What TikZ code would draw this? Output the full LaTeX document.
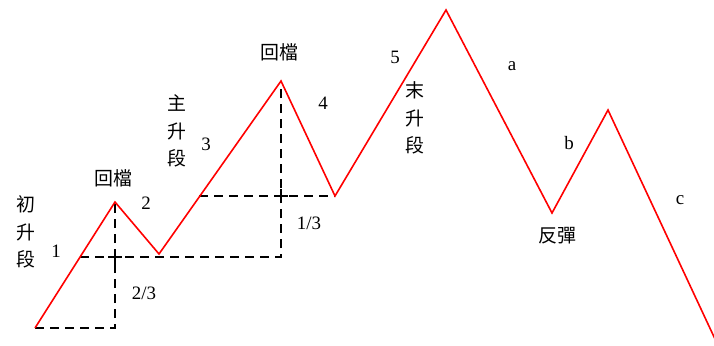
\documentclass[tikz,border=0pt]{standalone}
\usepackage{fontspec}
\setmainfont{Liberation Serif}
\newfontfamily\cjk{Noto Sans CJK TC}
\usetikzlibrary{positioning}

\begin{document}
\begin{tikzpicture}[x=1bp, y=-1bp,
  wave/.style={draw=red, line width=1.6bp, line join=miter},
  guide/.style={draw=black, line width=1.3bp, dash pattern=on 9bp off 6bp},
  crossmark/.style={draw=black, line width=1.3bp},
  lbl/.style={inner sep=0pt, font=\fontsize{19}{21}\selectfont},
  cjklbl/.style={inner sep=0pt, align=center, font=\cjk\fontsize{19}{27.5}\selectfont}
]
\useasboundingbox (0,0) rectangle (714,345);
% turning points of the wave
\coordinate (p0) at (35,328);
\coordinate (p1) at (115,202);
\coordinate (p2) at (159,254);
\coordinate (p3) at (281,81);
\coordinate (p4) at (335,196);
\coordinate (p5) at (446,10);
\coordinate (p6) at (552,213);
\coordinate (p7) at (608,110);
\coordinate (p8) at (715,339);
% retracement guides
\coordinate (b1) at (115,328);
\coordinate (h1) at (80,257);
\coordinate (c1) at (115,257);
\coordinate (h1e) at (281,257);
\coordinate (h2) at (199,196);
\coordinate (c2) at (281,196);
\draw[guide] (p0) -- (b1) -- (p1);
\draw[guide] (h1) -- (h1e) -- (p3);
\draw[guide] (h2) -- (p4);
\draw[crossmark] ([xshift=-7bp]c1) -- ([xshift=7bp]c1) ([yshift=-7bp]c1) -- ([yshift=7bp]c1);
\draw[crossmark] ([xshift=-7bp]c2) -- ([xshift=7bp]c2) ([yshift=-7bp]c2) -- ([yshift=7bp]c2);
\draw[wave] (p0) -- (p1) -- (p2) -- (p3) -- (p4) -- (p5) -- (p6) -- (p7) -- (p8);
% labels
\node[cjklbl] (early) at (26,232) {初\\升\\段};
\node[cjklbl] (main) at (177,131) {主\\升\\段};
\node[cjklbl] (late) at (415,118) {末\\升\\段};
\node[cjklbl] (pb1) at (113,178) {回檔};
\node[cjklbl] (pb2) at (279,52) {回檔};
\node[cjklbl] (rebound) at (557,236) {反彈};
\node[lbl] (w1) at (56,251) {1};
\node[lbl] (w2) at (146,203) {2};
\node[lbl] (w3) at (206,144) {3};
\node[lbl] (w4) at (323,103) {4};
\node[lbl] (w5) at (395,57) {5};
\node[lbl] (wa) at (512,66) {a};
\node[lbl] (wb) at (569,143) {b};
\node[lbl] (wc) at (680,200) {c};
\node[lbl] (r23) at (144,293) {2/3};
\node[lbl] (r13) at (309,223) {1/3};
\end{tikzpicture}
\end{document}
